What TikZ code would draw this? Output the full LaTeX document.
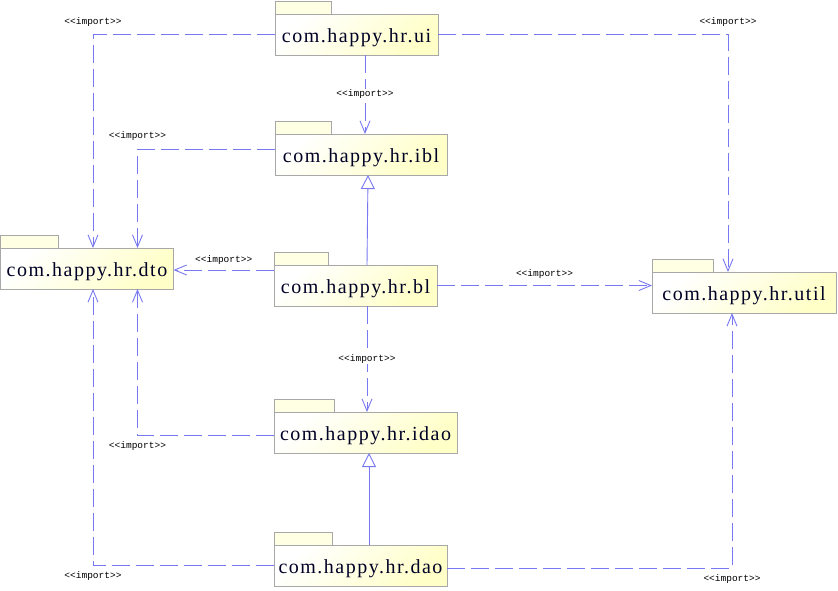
\documentclass[tikz,border=0pt]{standalone}
\usepackage{fontspec}
\usepackage{tikz}
\usetikzlibrary{arrows.meta, calc}
\newfontfamily\pkgfont[LetterSpace=7.5]{Liberation Serif}
\newfontfamily\stereofont{Liberation Mono}
\definecolor{deplink}{RGB}{120,120,240}
\definecolor{pkgedge}{RGB}{168,168,168}
\definecolor{pkgfill}{RGB}{255,255,200}
\tikzset{
   package/.style={draw=pkgedge, anchor=north west, outer sep=0pt,
      inner sep=0pt, minimum height=41pt, text height=16pt, text depth=0pt,
      font=\pkgfont\fontsize{20}{24}\selectfont, text=black!85!blue,
      top color=white, bottom color=pkgfill, shading angle=45},
   pkgtab/.style={draw=pkgedge, fill=white!50!pkgfill},
   dep/.style={draw=deplink, line width=0.9pt, dash pattern=on 18pt off 6pt,
      -{Straight Barb[length=12pt,width=10pt]}},
   inherit/.style={draw=deplink, line width=0.9pt,
      -{Triangle[open,fill=white,length=14pt,width=14pt]}},
   stereo/.style={font=\stereofont\fontsize{9.5}{11}\selectfont,
      inner sep=1pt, fill=white}
}
\begin{document}
\begin{tikzpicture}[x=1pt,y=-1pt]
   \useasboundingbox (0,0) rectangle (838,590);

   % packages
   \node[package, minimum width=163pt] (ui) at (275,14) {com.happy.hr.ui};
   \node[package, minimum width=172pt] (ibl) at (275,134) {com.happy.hr.ibl};
   \node[package, minimum width=173pt] (dto) at (0.5,248) {com.happy.hr.dto};
   \node[package, minimum width=163pt] (bl) at (274,265) {com.happy.hr.bl};
   \node[package, minimum width=183pt] (idao) at (274,412) {com.happy.hr.idao};
   \node[package, minimum width=184pt] (util) at (652,272) {com.happy.hr.util};
   \node[package, minimum width=173pt] (dao) at (274,545) {com.happy.hr.dao};

   % tabs
   \draw[pkgtab] (ui.north west) rectangle ++(56,-13);
   \draw[pkgtab] (ibl.north west) rectangle ++(56,-13);
   \draw[pkgtab] (dto.north west) rectangle ++(58,-13);
   \draw[pkgtab] (bl.north west) rectangle ++(54,-13);
   \draw[pkgtab] (idao.north west) rectangle ++(60,-13);
   \draw[pkgtab] (util.north west) rectangle ++(61,-13);
   \draw[pkgtab] (dao.north west) rectangle ++(58,-13);

   % imports
   \draw[dep] (ui.west) -| ($(dto.north west)+(92.5,0)$)
   node[stereo,pos=0.5,above=7pt] {<<import>>};
   \draw[dep] (ui.east) -| ($(util.north west)+(76,0)$)
   node[stereo,pos=0.5,above=7pt] {<<import>>};
   \draw[dep] ($(ui.south west)+(90,0)$) -- ($(ibl.north west)+(90,0)$)
   node[stereo,midway] {<<import>>};
   \draw[dep] ($(ibl.north west)+(0,15)$) -| ($(dto.north west)+(137,0)$)
   node[stereo,pos=0.5,above=7pt] {<<import>>};
   \draw[dep] ($(bl.north west)+(0,5)$) -- ($(dto.north east)+(0,22)$)
   node[stereo,midway,above=4pt] {<<import>>};
   \draw[dep] (bl.east) -- (bl.east -| util.west)
   node[stereo,midway,above=6pt] {<<import>>};
   \draw[dep] ($(bl.south west)+(93,0)$) -- ($(idao.north west)+(93,0)$)
   node[stereo,midway] {<<import>>};
   \draw[dep] ($(idao.north west)+(0,23)$) -| ($(dto.south west)+(137,0)$)
   node[stereo,pos=0.5,below=5pt] {<<import>>};
   \draw[dep] (dao.west) -| ($(dto.south west)+(92.5,0)$)
   node[stereo,pos=0.5,below=5pt] {<<import>>};
   \draw[dep] ($(dao.north east)+(0,23)$) -| ($(util.south west)+(80,0)$)
   node[stereo,pos=0.5,below=5pt] {<<import>>};

   % realisations
   \draw[inherit] ($(bl.north west)+(93,0)$) -- ($(ibl.south west)+(93,0)$);
   \draw[inherit] ($(dao.north west)+(95,0)$) -- ($(idao.south west)+(95,0)$);
\end{tikzpicture}
\end{document}
